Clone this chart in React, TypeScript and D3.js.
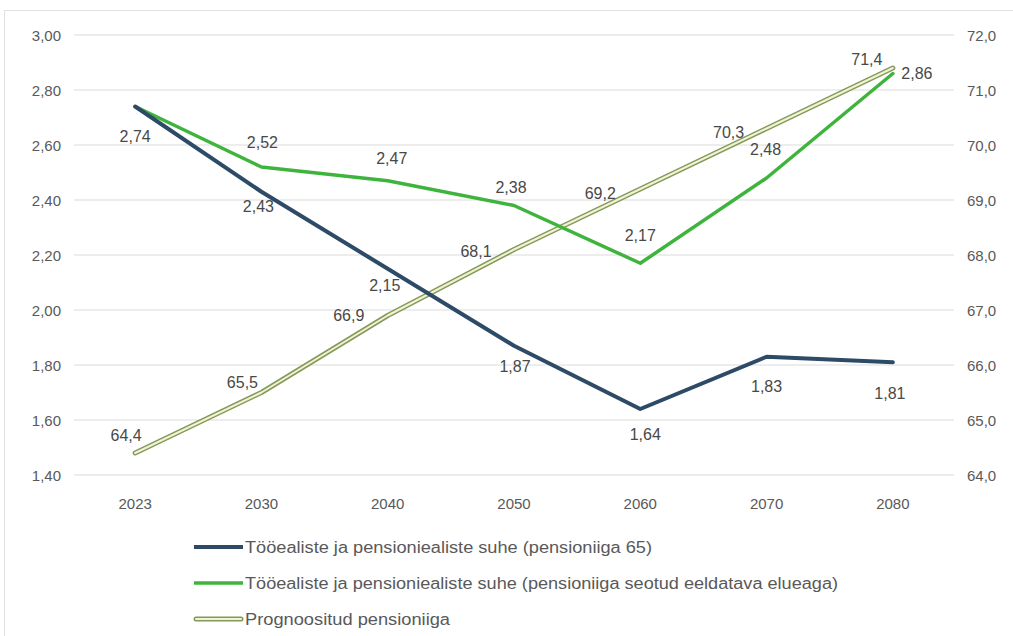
import React from "react";
import { scaleBand, scaleLinear, line, range, formatLocale } from "d3";

// categories and series
const years = ["2023", "2030", "2040", "2050", "2060", "2070", "2080"];
const ratio65 = [2.74, 2.43, 2.15, 1.87, 1.64, 1.83, 1.81];
const ratioLinked = [2.74, 2.52, 2.47, 2.38, 2.17, 2.48, 2.86];
const pensionAge = [64.4, 65.5, 66.9, 68.1, 69.2, 70.3, 71.4];

const leftTicks = range(1.4, 3.0001, 0.2);
const rightTicks = range(64, 72.0001, 1);

const legendLabels = [
  "Tööealiste ja pensioniealiste suhe (pensioniiga 65)",
  "Tööealiste ja pensioniealiste suhe (pensioniiga seotud eeldatava elueaga)",
  "Prognoositud pensioniiga",
];

// where each data label sits relative to its point (null = hidden)
const blueLabelShift: ([number, number] | null)[] = [
  [0, 30], [-3, 15], [-3, 17], [1, 21], [5, 25], [0, 30], [-3, 31],
];
const greenLabelShift: ([number, number] | null)[] = [
  null, [1, -25], [4, -22], [-3, -18], [0, -28], [-1, -29], [24, 0],
];
const ageLabelShift: ([number, number] | null)[] = [
  [-9, -18], [-19, -10], [-39, 0], [-38, 2], [-40, 4], [-38, 4], [-26, -9],
];

const W = 1013;
const H = 636;
const top = 35;
const bottom = 475;

const BLUE = "#2d4a67";
const GREEN = "#3fb43c";
const AGE_OUT = "#86995a";
const AGE_IN = "#f0f4d6";
const TXT = "#595959";
const LBL = "#484848";
const FONT = "'Liberation Sans', Arial, sans-serif";

const et = formatLocale({ decimal: ",", thousands: " ", grouping: [3], currency: ["", " €"] });
const f2 = et.format(".2f");
const f1 = et.format(".1f");

export default function App() {
  const x = scaleBand().domain(years).range([72, 956]).padding(0);
  const cx = (i: number) => x(years[i])! + x.bandwidth() / 2;
  const yL = scaleLinear().domain([1.4, 3.0]).range([bottom, top]);
  const yR = scaleLinear().domain([64, 72]).range([bottom, top]);

  const lineL = line<number>().x((_, i) => cx(i)).y((d) => yL(d));
  const lineR = line<number>().x((_, i) => cx(i)).y((d) => yR(d));

  const labels = (
    vals: number[],
    y: (v: number) => number,
    shift: ([number, number] | null)[],
    fmt: (v: number) => string
  ) =>
    vals.map((v, i) => {
      const s = shift[i];
      if (!s) return null;
      return (
        <text
          key={i}
          x={cx(i) + s[0]}
          y={y(v) + s[1]}
          textAnchor="middle"
          dominantBaseline="central"
          fontSize={16}
          fill={LBL}
        >
          {fmt(v)}
        </text>
      );
    });

  const legendY = [547, 583, 619];
  const legendEnd = [652, 838, 450];

  return (
    <svg
      width={W}
      height={H}
      style={{ position: "absolute", left: 0, top: 0, background: "#fff" }}
      fontFamily={FONT}
    >
      <rect x={4.5} y={10.5} width={W - 4} height={H - 6} fill="none" stroke="#e2e2e2" />

      {/* grid */}
      {leftTicks.map((t, i) => (
        <line key={i} x1={74} x2={954} y1={yL(t)} y2={yL(t)} stroke="#dcdcdc" strokeWidth={1.2} />
      ))}

      {/* left axis */}
      {leftTicks.map((t, i) => (
        <text key={i} x={61} y={yL(t)} textAnchor="end" dominantBaseline="central" fontSize={15} fill={TXT}>
          {f2(t)}
        </text>
      ))}

      {/* right axis */}
      {rightTicks.map((t, i) => (
        <text key={i} x={967} y={yR(t)} textAnchor="start" dominantBaseline="central" fontSize={15} fill={TXT}>
          {f1(t)}
        </text>
      ))}

      {/* x axis */}
      {years.map((yr, i) => (
        <text key={yr} x={cx(i)} y={503} textAnchor="middle" dominantBaseline="central" fontSize={15} fill={TXT}>
          {yr}
        </text>
      ))}

      {/* series */}
      <path d={lineR(pensionAge)!} fill="none" stroke={AGE_OUT} strokeWidth={5} strokeLinejoin="round" strokeLinecap="round" />
      <path d={lineR(pensionAge)!} fill="none" stroke={AGE_IN} strokeWidth={2} strokeLinejoin="round" strokeLinecap="round" />
      <path d={lineL(ratioLinked)!} fill="none" stroke={GREEN} strokeWidth={3.5} strokeLinejoin="round" strokeLinecap="round" />
      <path d={lineL(ratio65)!} fill="none" stroke={BLUE} strokeWidth={4} strokeLinejoin="round" strokeLinecap="round" />

      {/* data labels */}
      {labels(ratio65, yL, blueLabelShift, f2)}
      {labels(ratioLinked, yL, greenLabelShift, f2)}
      {labels(pensionAge, yR, ageLabelShift, f1)}

      {/* legend */}
      <line x1={194} x2={243} y1={legendY[0]} y2={legendY[0]} stroke={BLUE} strokeWidth={4} />
      <line x1={194} x2={243} y1={legendY[1]} y2={legendY[1]} stroke={GREEN} strokeWidth={3.5} />
      <line x1={196} x2={241} y1={legendY[2]} y2={legendY[2]} stroke={AGE_OUT} strokeWidth={5} strokeLinecap="round" />
      <line x1={196} x2={241} y1={legendY[2]} y2={legendY[2]} stroke={AGE_IN} strokeWidth={2} strokeLinecap="round" />
      {legendLabels.map((s, i) => (
        <text
          key={i}
          x={245}
          y={legendY[i]}
          dominantBaseline="central"
          fontSize={16}
          fill={TXT}
          textLength={legendEnd[i] - 245}
          lengthAdjust="spacingAndGlyphs"
        >
          {s}
        </text>
      ))}
    </svg>
  );
}
